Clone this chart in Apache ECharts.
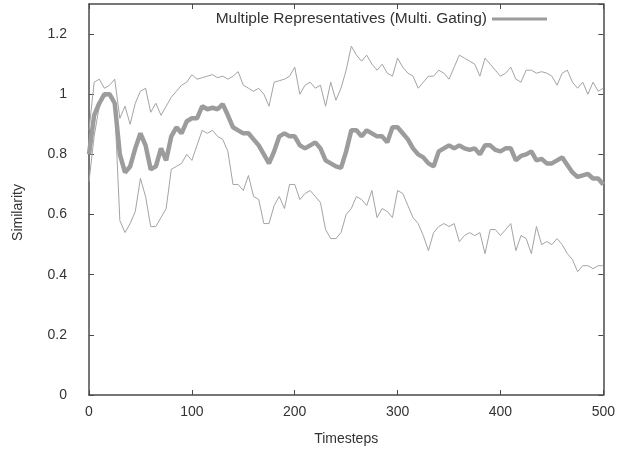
<!DOCTYPE html>
<html>
<head>
<meta charset="utf-8">
<script src="https://cdn.jsdelivr.net/npm/echarts@6/dist/echarts.min.js"></script>
<style>
html,body{margin:0;padding:0;background:#fff;}
#chart{width:618px;height:454px;}
</style>
</head>
<body>
<div id="chart"></div>
<script>
const timesteps = [0,5,10,15,20,25,30,35,40,45,50,55,60,65,70,75,80,85,90,95,
100,105,110,115,120,125,130,135,140,145,150,155,160,165,170,175,180,185,190,195,
200,205,210,215,220,225,230,235,240,245,250,255,260,265,270,275,280,285,290,295,
300,305,310,315,320,325,330,335,340,345,350,355,360,365,370,375,380,385,390,395,
400,405,410,415,420,425,430,435,440,445,450,455,460,465,470,475,480,485,490,495,500];

const meanSim = [0.80,0.93,0.97,1.00,1.00,0.97,0.80,0.74,0.76,0.82,0.87,0.83,0.75,0.76,0.82,0.78,0.86,0.89,0.87,0.91,
0.92,0.92,0.96,0.95,0.955,0.95,0.967,0.93,0.89,0.88,0.87,0.87,0.85,0.83,0.80,0.77,0.81,0.86,0.87,0.86,
0.86,0.83,0.82,0.83,0.84,0.82,0.78,0.77,0.76,0.755,0.81,0.88,0.88,0.86,0.88,0.87,0.86,0.86,0.84,0.89,
0.89,0.87,0.85,0.82,0.80,0.79,0.77,0.76,0.81,0.82,0.83,0.82,0.83,0.82,0.815,0.82,0.80,0.83,0.83,0.815,
0.81,0.82,0.82,0.78,0.795,0.80,0.81,0.78,0.785,0.77,0.77,0.78,0.79,0.765,0.74,0.725,0.73,0.735,0.72,0.72,0.70];

const upperSim = [0.88,1.04,1.05,1.02,1.03,1.05,0.92,0.96,0.90,0.97,1.01,1.02,0.94,0.97,0.93,0.96,0.99,1.01,1.03,1.04,
1.065,1.05,1.055,1.06,1.065,1.055,1.06,1.05,1.06,1.075,1.03,1.02,1.01,1.02,1.00,0.96,1.04,1.045,1.05,1.06,
1.09,1.00,1.03,1.04,1.02,1.03,0.96,1.04,0.98,1.02,1.08,1.16,1.13,1.11,1.13,1.10,1.08,1.10,1.07,1.06,
1.12,1.09,1.07,1.06,1.02,1.04,1.06,1.06,1.08,1.07,1.05,1.09,1.13,1.12,1.11,1.10,1.06,1.12,1.10,1.08,
1.06,1.07,1.09,1.05,1.04,1.08,1.08,1.07,1.075,1.07,1.06,1.03,1.07,1.08,1.04,1.02,1.04,1.00,1.04,1.01,1.02];

const lowerSim = [0.71,0.86,0.96,0.99,1.00,0.96,0.58,0.54,0.57,0.61,0.72,0.66,0.56,0.56,0.59,0.62,0.75,0.76,0.77,0.80,
0.78,0.83,0.88,0.87,0.88,0.86,0.85,0.81,0.70,0.70,0.68,0.73,0.66,0.65,0.57,0.57,0.63,0.66,0.62,0.70,
0.70,0.65,0.67,0.68,0.66,0.64,0.55,0.52,0.52,0.54,0.60,0.62,0.66,0.65,0.63,0.68,0.59,0.62,0.61,0.59,
0.68,0.67,0.63,0.59,0.57,0.53,0.48,0.54,0.56,0.57,0.56,0.57,0.51,0.53,0.54,0.53,0.54,0.47,0.55,0.55,
0.53,0.55,0.57,0.48,0.53,0.52,0.47,0.56,0.50,0.51,0.50,0.52,0.50,0.47,0.45,0.41,0.43,0.43,0.42,0.43,0.43];

const xTicks = [0,100,200,300,400,500];
const yTicks = [0,0.2,0.4,0.6,0.8,1,1.2];
const seriesName = 'Multiple Representatives (Multi. Gating)';

const pairs = arr => timesteps.map((t,i) => [t, arr[i]]);

const FONT = 'Liberation Sans, Arial, sans-serif';
const axisCol = '#4a4a4a';
const labelCol = '#333';

const chart = echarts.init(document.getElementById('chart'), null, {renderer:'canvas'});
const mirrorAxisLine = {show:true,onZero:false,lineStyle:{color:axisCol,width:1.5}};
const tick = {show:true,inside:true,length:5,lineStyle:{color:axisCol}};
chart.setOption({
  animation:false,
  backgroundColor:'#fff',
  grid:{left:89,right:13,top:4,bottom:59,containLabel:false},
  legend:{
    data:[{name:seriesName}],
    right:66, top:6, align:'right',
    icon:'rect', itemWidth:55, itemHeight:3,
    textStyle:{fontFamily:FONT,fontSize:15.5,color:labelCol},
    selectedMode:false
  },
  xAxis:[{
    type:'value', min:0, max:500, interval:100, position:'bottom',
    name:'Timesteps', nameLocation:'middle', nameGap:37,
    nameTextStyle:{fontFamily:FONT,fontSize:14,color:labelCol},
    axisLine:mirrorAxisLine, axisTick:tick,
    axisLabel:{fontFamily:FONT,fontSize:14,color:labelCol,margin:10,
      formatter:v=>xTicks.includes(v)?String(v):''},
    splitLine:{show:false}
  },{
    type:'value', min:0, max:500, interval:100, position:'top',
    axisLine:mirrorAxisLine, axisTick:tick,
    axisLabel:{show:false}, splitLine:{show:false}
  }],
  yAxis:[{
    type:'value', min:0, max:1.3, interval:0.2, position:'left',
    name:'Similarity', nameLocation:'middle', nameGap:64, nameRotate:90,
    nameTextStyle:{fontFamily:FONT,fontSize:14,color:labelCol,padding:[0,26,0,0]},
    axisLine:mirrorAxisLine, axisTick:tick,
    axisLabel:{fontFamily:FONT,fontSize:14,color:labelCol,margin:22,showMaxLabel:false,
      formatter:v=>{const r=Math.round(v*10)/10; return yTicks.includes(r)?String(r):'';}},
    splitLine:{show:false}
  },{
    type:'value', min:0, max:1.3, interval:0.2, position:'right',
    axisLine:mirrorAxisLine, axisTick:tick,
    axisLabel:{show:false}, splitLine:{show:false}
  }],
  series:[
    {name:'upper', type:'line', data:pairs(upperSim), showSymbol:false, symbol:'none',
     lineStyle:{color:'#a4a4a4',width:1}, itemStyle:{color:'#a4a4a4'}, z:2},
    {name:'lower', type:'line', data:pairs(lowerSim), showSymbol:false, symbol:'none',
     lineStyle:{color:'#a4a4a4',width:1}, itemStyle:{color:'#a4a4a4'}, z:2},
    {name:seriesName, type:'line', data:pairs(meanSim), showSymbol:false, symbol:'none',
     lineStyle:{color:'#9c9c9c',width:4.5}, itemStyle:{color:'#9c9c9c'}, z:3}
  ]
});
</script>
</body>
</html>
